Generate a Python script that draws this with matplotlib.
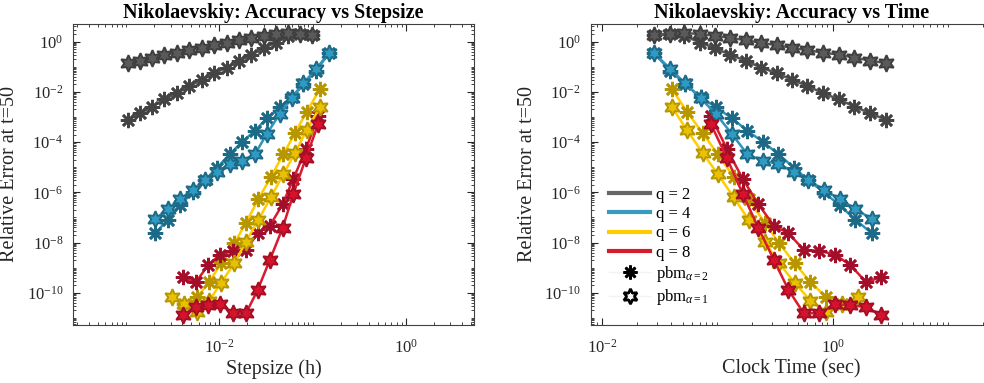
import numpy as np
import matplotlib
matplotlib.use("Agg")
import matplotlib.pyplot as plt
from matplotlib.lines import Line2D
from matplotlib.ticker import FixedLocator, LogFormatterSciNotation, NullFormatter

plt.rcParams['font.family'] = ['Liberation Serif', 'DejaVu Serif']
plt.rcParams['mathtext.fontset'] = 'custom'
plt.rcParams['mathtext.rm'] = 'Liberation Serif'
plt.rcParams['mathtext.it'] = 'Liberation Serif:italic'
plt.rcParams['mathtext.bf'] = 'Liberation Serif:bold'

# ---------------- data (ascending stepsize order) ----------------
# q = 2
h_q2 = [1.06e-3, 1.41e-3, 1.91e-3, 2.58e-3, 3.52e-3, 4.76e-3, 6.53e-3, 8.83e-3,
        1.20e-2, 1.63e-2, 2.20e-2, 2.99e-2, 4.02e-2, 5.41e-2, 7.33e-2, 9.93e-2]
t_q2 = [2.92, 2.11, 1.54, 1.127, 0.824, 0.603, 0.444, 0.329,
        0.240, 0.177, 0.129, 0.0959, 0.0706, 0.0513, 0.0391, 0.0282]
err_q2_a2 = [7.59e-4, 1.40e-3, 2.57e-3, 5.07e-3, 8.79e-3, 1.72e-2, 2.98e-2, 5.51e-2,
             9.20e-2, 0.170, 0.295, 0.546, 0.912, 1.734, 1.972, 1.849]
err_q2_a1 = [0.138, 0.175, 0.231, 0.303, 0.365, 0.454, 0.561, 0.719,
             0.887, 1.138, 1.403, 1.687, 2.028, 2.163, 2.084, 1.849]

# q = 4
h_q4 = [2.05e-3, 2.80e-3, 3.79e-3, 5.19e-3, 7.03e-3, 9.53e-3, 1.297e-2, 1.766e-2,
        2.415e-2, 3.22e-2, 4.44e-2, 5.97e-2, 7.94e-2, 0.1086, 0.151]
t_q4 = [2.188, 1.570, 1.151, 0.836, 0.611, 0.459, 0.336, 0.247,
        0.181, 0.134, 0.0973, 0.0716, 0.0527, 0.0391, 0.0282]
err_q4_a2 = [2.33e-8, 8.09e-8, 3.03e-7, 1.01e-6, 3.09e-6, 9.73e-6, 3.36e-5, 1.04e-4,
             2.84e-4, 8.87e-4, 2.39e-3, 6.15e-3, 2.03e-2, 6.81e-2, 0.355]
err_q4_a1 = [8.39e-8, 2.22e-7, 5.26e-7, 1.29e-6, 3.09e-6, 6.62e-6, 1.38e-5, 1.77e-5,
             3.36e-5, 2.07e-4, 1.32e-3, 5.46e-3, 2.16e-2, 8.17e-2, 0.355]

# q = 6
h_q6 = [3.09e-3, 4.22e-3, 5.73e-3, 7.82e-3, 1.042e-2, 1.449e-2, 1.932e-2, 2.618e-2,
        3.581e-2, 4.853e-2, 6.471e-2, 8.65e-2, 0.1199]
t_q6 = [1.648, 1.205, 0.875, 0.640, 0.468, 0.344, 0.257, 0.187,
        0.138, 0.101, 0.0746, 0.0545, 0.0404]
err_q6_a2 = [3.55e-11, 6.56e-11, 2.74e-10, 1.48e-9, 9.29e-9, 6.15e-8, 5.26e-7, 4.19e-6,
             3.27e-5, 2.24e-4, 1.63e-3, 1.27e-2]           # starts at 2nd stepsize
err_q6_a1 = [6.93e-11, 3.55e-11, 1.75e-11, 4.89e-11, 2.50e-10, 1.48e-9, 1.10e-8, 7.87e-8,
             6.50e-7, 5.26e-6, 3.68e-5, 3.03e-4, 2.45e-3]

# q = 8
h_q8 = [4.05e-3, 5.62e-3, 7.62e-3, 1.019e-2, 1.413e-2, 1.932e-2, 2.582e-2, 3.49e-2,
        4.79e-2, 6.21e-2, 8.49e-2, 0.1151]
t_q8 = [2.642, 1.936, 1.419, 1.045, 0.766, 0.561, 0.413, 0.308,
        0.226, 0.166, 0.121, 0.0875]
err_q8_a2 = [4.11e-10, 2.74e-10, 1.27e-9, 3.33e-9, 4.71e-9, 5.16e-9, 2.33e-8, 4.75e-8,
             3.42e-7, 3.39e-6, 5.31e-5, 1.10e-3]
err_q8_a1 = [1.29e-11, 2.69e-11, 3.24e-11, 3.55e-11, 1.55e-11, 1.52e-11, 1.32e-10, 2.08e-9,
             3.96e-8, 8.55e-7, 2.33e-5, 5.41e-4]

q_labels = ['q = 2', 'q = 4', 'q = 6', 'q = 8']
legend_line_colors = ['#666666', '#3a9bc1', '#ffcc00', '#d81b2c']
method_labels = [r'pbm$_{\alpha=2}$', r'pbm$_{\alpha=1}$']

# ---------------- styles ----------------
styles = {
    2: dict(line='#555555', ast='#444444', hexf='#5a5a5a', hexe='#3f3f3f'),
    4: dict(line='#2e93bd', ast='#1d6a87', hexf='#2f9ac4', hexe='#1d6a87'),
    6: dict(line='#ffcc00', ast='#b89600', hexf='#e8c200', hexe='#b89600'),
    8: dict(line='#da1a2e', ast='#a30f2a', hexf='#d6122c', hexe='#a30f25'),
}
series = [
    (2, h_q2, t_q2, h_q2, t_q2, err_q2_a2, err_q2_a1),
    (4, h_q4, t_q4, h_q4, t_q4, err_q4_a2, err_q4_a1),
    (6, h_q6[1:], t_q6[1:], h_q6, t_q6, err_q6_a2, err_q6_a1),
    (8, h_q8, t_q8, h_q8, t_q8, err_q8_a2, err_q8_a1),
]

AST = (8, 2, 0)
HEX = (6, 1, 0)
TXT = '#262626'

W, H = 984, 383
fig = plt.figure(figsize=(W / 100, H / 100), dpi=100)
ax1 = fig.add_axes([73 / W, 58 / H, 401 / W, 301 / H])
ax2 = fig.add_axes([590.7 / W, 58 / H, 401.3 / W, 301 / H])

for ax, use_time in ((ax1, False), (ax2, True)):
    for q, h2, t2, h1, t1, e2, e1 in series:
        s = styles[q]
        x2 = t2 if use_time else h2
        x1 = t1 if use_time else h1
        ax.plot(x2, e2, color=s['line'], lw=1.8, marker=AST, ms=11,
                mec=s['ast'], mfc=s['ast'], mew=1.9, zorder=2)
        ax.plot(x1, e1, color=s['line'], lw=1.8, marker=HEX, ms=12,
                mec=s['hexe'], mfc=s['hexf'], mew=1.4, zorder=3)

    ax.set_xscale('log')
    ax.set_yscale('log')
    ax.set_ylim(10 ** -11.28, 10 ** 0.70)
    ax.yaxis.set_major_locator(FixedLocator([10.0 ** k for k in range(-10, 1, 2)]))
    ax.yaxis.set_minor_locator(FixedLocator([m * 10.0 ** k for k in range(-12, 2) for m in range(1, 10)]))
    ax.yaxis.set_minor_formatter(NullFormatter())
    ax.xaxis.set_major_locator(FixedLocator([10.0 ** k for k in range(-4, 3, 2)]))
    ax.xaxis.set_minor_locator(FixedLocator([m * 10.0 ** k for k in range(-5, 3) for m in range(1, 10)]))
    ax.xaxis.set_minor_formatter(NullFormatter())
    ax.xaxis.set_major_formatter(LogFormatterSciNotation())
    ax.yaxis.set_major_formatter(LogFormatterSciNotation())
    ax.tick_params(which='both', direction='in', top=True, right=True, colors=TXT,
                   labelcolor=TXT)
    ax.tick_params(which='major', length=5, width=0.8, labelsize=12, pad=7)
    ax.tick_params(axis='x', which='major', pad=10)
    ax.tick_params(which='minor', length=2.5, width=0.6)
    for sp in ax.spines.values():
        sp.set_color('#404040')
        sp.set_linewidth(0.8)

ax1.set_xlim(10 ** -3.568, 10 ** 0.73)
ax2.set_xlim(10 ** -2.098, 10 ** 1.38)

ax1.set_xlabel('Stepsize (h)', fontsize=14.5, color=TXT, labelpad=2)
ax2.set_xlabel('Clock Time (sec)', fontsize=14.5, color=TXT, labelpad=2)
ax1.set_title('Nikolaevskiy: Accuracy vs Stepsize', fontsize=14.5, fontweight='bold', pad=4)
ax2.set_title('Nikolaevskiy: Accuracy vs Time', fontsize=14.5, fontweight='bold', pad=4)

ylab = 'Relative Error at t=50'
fig.text(10 / W, 1 - 174.5 / H, ylab, rotation=90, ha='center', va='center',
         fontsize=14.5, color=TXT)
fig.text(528 / W, 1 - 174.5 / H, ylab, rotation=90, ha='center', va='center',
         fontsize=14.5, color=TXT)

handles = [Line2D([], [], color=c, lw=3) for c in legend_line_colors]
handles.append(Line2D([], [], color='#f2f2f2', lw=1, marker=AST, ms=10, mec='black', mfc='black', mew=1.9))
handles.append(Line2D([], [], color='#f2f2f2', lw=1, marker=HEX, ms=11, mec='black', mfc='none', mew=2.0))
ax2.legend(handles, q_labels + method_labels, loc='lower left', bbox_to_anchor=(0.02, 0.025),
           frameon=False, fontsize=12, handlelength=2.5, handletextpad=0.35,
           labelspacing=0.2, borderaxespad=0.2)

fig.savefig('out.png', dpi=100)
